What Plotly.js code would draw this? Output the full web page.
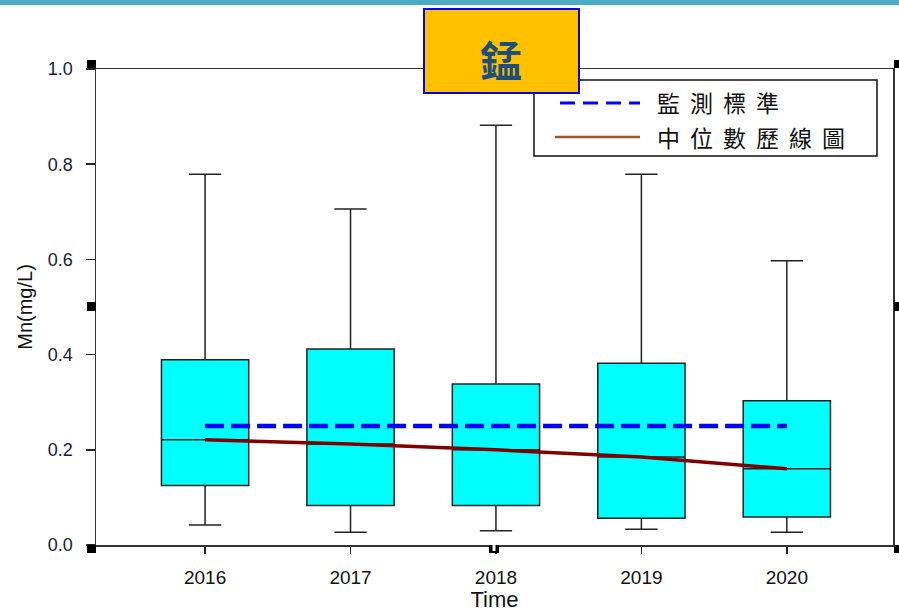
<!DOCTYPE html>
<html>
<head>
<meta charset="utf-8">
<script src="https://cdn.plot.ly/plotly-3.0.1.min.js"></script>
<style>html,body{margin:0;padding:0;background:#fff;}#chart{width:899px;height:612px;}</style>
</head>
<body>
<div id="chart"></div>
<script>
// ---- data ----
const years = [2016, 2017, 2018, 2019, 2020];
const upperWhisker = [0.779, 0.706, 0.882, 0.779, 0.597];
const q3 = [0.389, 0.412, 0.338, 0.382, 0.303];
const medians = [0.221, 0.212, 0.200, 0.185, 0.160];
const q1 = [0.125, 0.083, 0.083, 0.056, 0.059];
const lowerWhisker = [0.042, 0.027, 0.030, 0.033, 0.027];
const standard = [0.25, 0.25, 0.25, 0.25, 0.25];
const yTicks = [0, 0.2, 0.4, 0.6, 0.8, 1.0];
const titleText = '錳';
const legendNames = ['監測標準', '中位數歷線圖'];
const xTitle = 'Time';
const yTitle = 'Mn(mg/L)';

// pixel -> paper helpers (plot area: x 96..893, y 69..545)
const L = 96, R = 893, T = 69, B = 545;
const px = v => (v - L) / (R - L);
const py = v => (B - v) / (B - T);

const traces = [
  {
    type: 'box', x: years, q1: q1, median: medians, q3: q3,
    lowerfence: lowerWhisker, upperfence: upperWhisker,
    width: 0.6, whiskerwidth: 0.37, boxpoints: false,
    fillcolor: '#00FFFF', line: {color: '#222222', width: 1.5},
    showlegend: false, hoverinfo: 'skip'
  },
  {
    type: 'scatter', mode: 'lines', x: years, y: standard,
    line: {color: '#0000FF', width: 4.5, dash: '19px,7px'},
    showlegend: false, hoverinfo: 'skip'
  },
  {
    type: 'scatter', mode: 'lines', x: years, y: medians,
    line: {color: '#800000', width: 3.5},
    showlegend: false, hoverinfo: 'skip'
  }
];

const sq = (x0, y0, x1, y1, c) => ({type: 'rect', xref: 'paper', yref: 'paper', layer: 'above',
  x0: px(x0), x1: px(x1), y0: py(y1), y1: py(y0), fillcolor: c || '#000', line: {width: 0}});

const shapes = [
  // top teal band
  sq(-10, 0, 910, 5, '#4BACC6'),
  // selection handles
  sq(87, 60, 96, 68), sq(894, 60, 903, 68),
  sq(87, 302, 96, 311), sq(894, 302, 903, 311),
  sq(87, 545, 96, 553), sq(489, 545, 499, 553), sq(894, 545, 903, 553),
  sq(492.5, 545, 495.5, 551, '#fff'),
  // legend box
  {type: 'rect', xref: 'paper', yref: 'paper', layer: 'above',
   x0: px(534), x1: px(877), y0: py(156), y1: py(80), fillcolor: '#fff', line: {color: '#111', width: 1.5}},
  {type: 'line', xref: 'paper', yref: 'paper', layer: 'above',
   x0: px(560), x1: px(640), y0: py(103), y1: py(103), line: {color: '#0000FF', width: 3, dash: '15px,8px'}},
  {type: 'line', xref: 'paper', yref: 'paper', layer: 'above',
   x0: px(555), x1: px(640), y0: py(137), y1: py(137), line: {color: '#A0522D', width: 2.5}},
  // title box
  {type: 'rect', xref: 'paper', yref: 'paper', layer: 'above',
   x0: px(424), x1: px(579), y0: py(93), y1: py(9), fillcolor: '#FFC000', line: {color: '#0000FF', width: 2}}
];

const annotations = [
  {xref: 'paper', yref: 'paper', x: px(501), y: py(58), text: titleText, showarrow: false,
   xanchor: 'center', yanchor: 'middle',
   font: {family: 'Noto Sans CJK TC', size: 42, color: '#1F4E79', weight: 'bold'}},
  {xref: 'paper', yref: 'paper', x: px(655), y: py(102), text: legendNames[0], showarrow: false,
   xanchor: 'left', yanchor: 'middle', font: {family: 'Noto Sans CJK TC', size: 23, color: '#111'}},
  {xref: 'paper', yref: 'paper', x: px(655), y: py(137), text: legendNames[1], showarrow: false,
   xanchor: 'left', yanchor: 'middle', font: {family: 'Noto Sans CJK TC', size: 23, color: '#111'}}
];

const layout = {
  width: 899, height: 612,
  margin: {l: L, r: 899 - R, t: T, b: 612 - B, pad: 0},
  paper_bgcolor: '#fff', plot_bgcolor: '#fff',
  showlegend: false,
  xaxis: {
    range: [2015.25, 2020.73], tickvals: years, ticktext: years.map(String),
    ticks: 'outside', ticklen: 7, tickwidth: 1.5, tickcolor: '#222',
    showline: true, linecolor: '#333', linewidth: 1.5, mirror: true,
    showgrid: false, zeroline: false, ticklabelstandoff: 8,
    tickfont: {family: 'Liberation Sans, Arial', size: 19, color: '#111'},
    title: {text: xTitle, font: {family: 'Liberation Sans, Arial', size: 22, color: '#111'}, standoff: 14}
  },
  yaxis: {
    range: [0, 1], tickvals: yTicks, tickformat: '.1f',
    ticks: 'outside', ticklen: 9, tickwidth: 1.5, tickcolor: '#222',
    showline: true, linecolor: '#333', linewidth: 1.5, mirror: true,
    showgrid: false, zeroline: false, ticklabelstandoff: 9,
    tickfont: {family: 'Liberation Sans, Arial', size: 18, color: '#1a1a33'},
    title: {text: yTitle, font: {family: 'Liberation Sans, Arial', size: 20, color: '#111'}, standoff: 10}
  },
  shapes: shapes,
  annotations: annotations
};

Plotly.newPlot('chart', traces, layout, {staticPlot: true}).then(gd => {
  const texts = gd.querySelectorAll('.annotation-text');
  texts.forEach((t, i) => {
    if (i === 0) return;
    const bb = t.getBBox();
    t.style.letterSpacing = '10px';
    t.setAttribute('text-anchor', 'start');
    t.setAttribute('x', bb.x);
  });
});
</script>
</body>
</html>
